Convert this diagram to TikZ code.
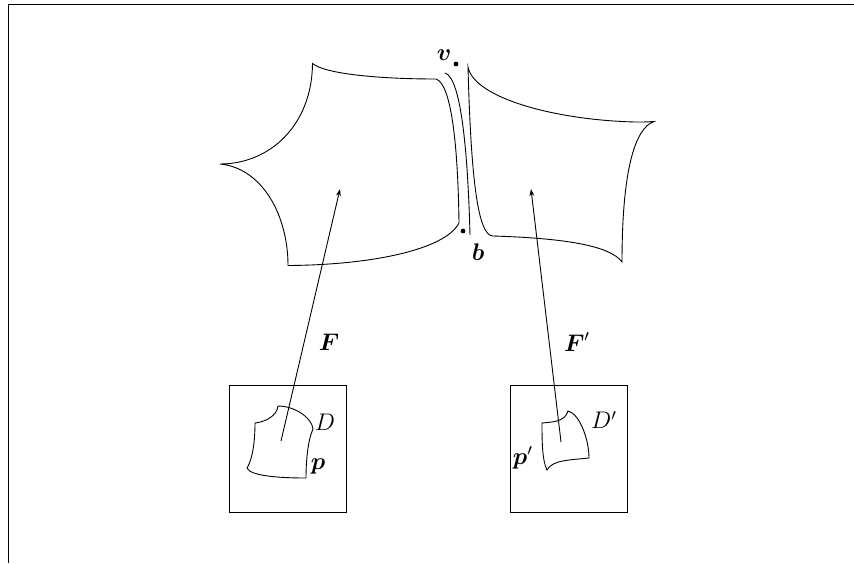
\documentclass[tikz,border=0pt]{standalone}
\usepackage{amsmath}
\usepackage{amssymb}
\usetikzlibrary{arrows.meta,positioning}
\tikzset{
  edgeline/.style={line width=0.45pt, draw=black},
  flow/.style={-{Stealth[length=3.5pt,width=2.4pt]}, draw=black, line width=0.45pt},
  framebox/.style={rectangle, draw=black, line width=0.45pt, inner sep=0pt},
  dotmark/.style={circle, fill=black, inner sep=0pt, minimum size=2.4pt},
  lbl/.style={inner sep=0pt, font=\large}
}
\begin{document}
\begin{tikzpicture}[x=0.5pt, y=-0.5pt]
\useasboundingbox (0,0) rectangle (854,563);

% --- outer frame
\coordinate (ftl) at (8.5,4.5);
\coordinate (ftr) at (854,4.5);
\coordinate (fbl) at (8.5,563);
\draw[edgeline] (ftr)--(ftl)--(fbl);

% --- left patch
\coordinate (la) at (312.5,63.5);
\coordinate (lb) at (436,79);
\coordinate (lc) at (459,223);
\coordinate (ld) at (288,265.5);
\coordinate (le) at (220,164);
\draw[edgeline] (la) .. controls (325,74) and (380,79) .. (lb)
  .. controls (452,84) and (458,150) .. (lc)
  .. controls (445,250) and (370,265) .. (ld)
  .. controls (288,215) and (262,168) .. (le)
  .. controls (270,164) and (312,125) .. (la) -- cycle;

% --- seam
\coordinate (sa) at (445,73);
\coordinate (sb) at (470,235);
\draw[edgeline] (sa) .. controls (462,78) and (468,160) .. (sb);

% --- right patch
\coordinate (ra) at (468,67);
\coordinate (rm) at (635,122);
\coordinate (rb) at (654,121.5);
\coordinate (rc) at (622,262);
\coordinate (rd) at (493,236);
\draw[edgeline] (ra) .. controls (474,98) and (555,120) .. (rm)
  .. controls (642,122) and (648,122) .. (rb)
  .. controls (635,128) and (622,170) .. (rc)
  .. controls (610,245) and (560,238) .. (rd)
  .. controls (478,236) and (471,180) .. (ra) -- cycle;

% --- parameter domains
\node[framebox, minimum width=58.5pt, minimum height=63.5pt] (dom) at (287.5,448.5) {};
\node[framebox, minimum width=58.5pt, minimum height=63.5pt] (domb) at (568.5,448.5) {};

% --- small patch, left
\coordinate (pa) at (278,406);
\coordinate (pb) at (313,429);
\coordinate (pc) at (306,478);
\coordinate (pd) at (247,468);
\coordinate (pe) at (255,423);
\draw[edgeline] (pa) .. controls (295,406) and (312,418) .. (pb)
  .. controls (308,440) and (306,460) .. (pc)
  .. controls (280,478) and (250,476) .. (pd)
  .. controls (253,458) and (255,440) .. (pe)
  .. controls (265,422) and (277,416) .. (pa) -- cycle;

% --- small patch, right
\coordinate (qa) at (568,411);
\coordinate (qb) at (589,458);
\coordinate (qc) at (547,470);
\coordinate (qd) at (542,423);
\draw[edgeline] (qa) .. controls (580,414) and (589,440) .. (qb)
  .. controls (570,460) and (552,460) .. (qc)
  .. controls (542,460) and (542,440) .. (qd)
  .. controls (552,422) and (565,422) .. (qa) -- cycle;

% --- maps
\coordinate (fs) at (281,441);
\coordinate (ft) at (340,189);
\coordinate (gs) at (561,442);
\coordinate (gt) at (531,189);
\draw[flow] (fs)--(ft);
\draw[flow] (gs)--(gt);

% --- marks and labels
\node[dotmark] (vdot) at (456,64) {};
\node[dotmark] (bdot) at (463,231) {};
\node[lbl] (vlbl) at (444,55) {$\boldsymbol{v}$};
\node[lbl] (blbl) at (478,252) {$\boldsymbol{b}$};
\node[lbl] (flbl) at (329,342) {$\boldsymbol{F}$};
\node[lbl] (glbl) at (577,342) {$\boldsymbol{F}'$};
\node[lbl] (dlbl) at (325,422) {$D$};
\node[lbl] (elbl) at (604,420) {$D'$};
\node[lbl] (plbl) at (318,466) {$\boldsymbol{p}$};
\node[lbl] (qlbl) at (523,458) {$\boldsymbol{p}'$};
\end{tikzpicture}
\end{document}
